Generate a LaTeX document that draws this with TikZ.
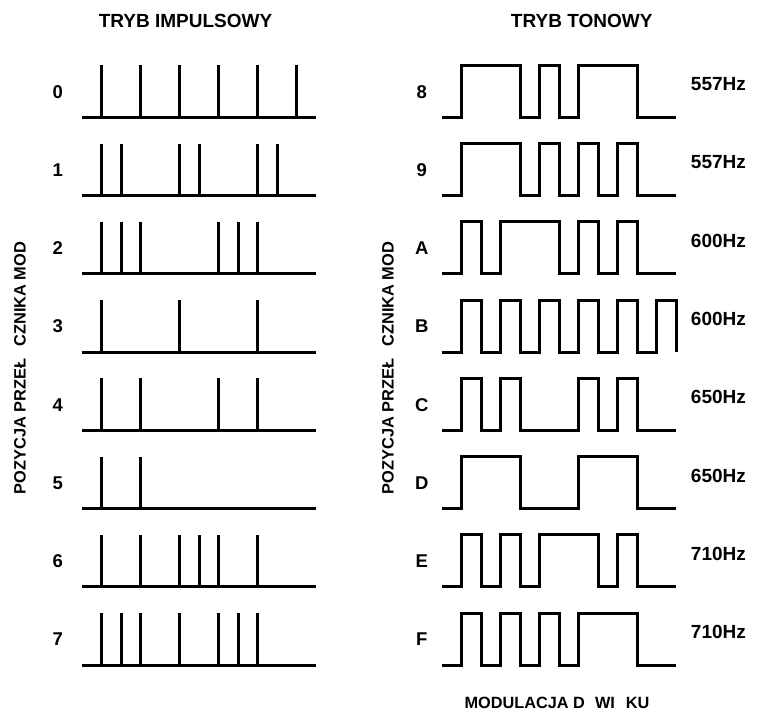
\documentclass[tikz,border=0pt]{standalone}
\usepackage{fontspec}
\setmainfont{Liberation Sans}
\begin{document}
\begin{tikzpicture}[x=1pt,y=-1pt,
  lbl/.style={font=\bfseries\fontsize{18.5}{18.5}\selectfont, inner sep=0pt},
  frq/.style={font=\bfseries\fontsize{19}{19}\selectfont, inner sep=0pt},
  ttl/.style={font=\bfseries\fontsize{19}{19}\selectfont, inner sep=0pt},
  vlbl/.style={font=\bfseries\fontsize{16.4}{16.4}\selectfont, inner sep=0pt, rotate=90},
  baseln/.style={line width=2.9pt},
  pulse/.style={line width=2.9pt},
  sig/.style={line width=2.9pt, line join=miter}]
\useasboundingbox (0,0) rectangle (758,713);
\def\u{19.5}
\def\xl{101.7}
\def\xr{461.7}
\def\hh{52}
% titles
\node[ttl] (T1) at (185.5,21) {TRYB IMPULSOWY};
\node[ttl] (T2) at (581.7,20.5) {TRYB TONOWY};
% left: pulse mode
\foreach \r/\lab/\ps in {0/0/{0,2,4,6,8,10}, 1/1/{0,1,4,5,8,9}, 2/2/{0,1,2,6,7,8}, 3/3/{0,4,8}, 4/4/{0,2,6,8}, 5/5/{0,2}, 6/6/{0,2,4,5,6,8}, 7/7/{0,1,2,4,6,7,8}}{
  \pgfmathsetmacro\y{117.3+78.25*\r}
  \node[lbl] (L\r) at (57.7,\y-25.6) {\lab};
  \draw[baseln] (\xl-\u,\y) -- (\xl+11*\u,\y);
  \foreach \p in \ps { \draw[pulse] (\xl+\p*\u,\y) -- (\xl+\p*\u,\y-\hh); }
}
% right: tone mode
\foreach \r/\lab/\f/\iv in {0/8/557/{0/3,4/5,6/9}, 1/9/557/{0/3,4/5,6/7,8/9}, 2/A/600/{0/1,2/5,6/7,8/9}, 4/C/650/{0/1,2/3,6/7,8/9}, 5/D/650/{0/3,6/9}, 6/E/710/{0/1,2/3,4/7,8/9}, 7/F/710/{0/1,2/3,4/5,6/9}}{
  \pgfmathsetmacro\y{117.3+78.25*\r}
  \node[lbl] (R\r) at (421.7,\y-25.6) {\lab};
  \node[frq] (F\r) at (718.4,\y-33) {\f Hz};
  \draw[sig] (\xr-\u,\y) \foreach \a/\b in \iv { -- (\xr+\a*\u,\y) -- (\xr+\a*\u,\y-\hh) -- (\xr+\b*\u,\y-\hh) -- (\xr+\b*\u,\y) } -- (\xr+11*\u,\y);
}
% row B
\pgfmathsetmacro\y{117.3+78.25*3}
\node[lbl] (R3) at (421.7,\y-25.6) {B};
\node[frq] (F3) at (718.4,\y-33) {600Hz};
\draw[sig] (\xr-\u,\y) \foreach \a/\b in {0/1,2/3,4/5,6/7,8/9} { -- (\xr+\a*\u,\y) -- (\xr+\a*\u,\y-\hh) -- (\xr+\b*\u,\y-\hh) -- (\xr+\b*\u,\y) } -- (\xr+10*\u,\y) -- (\xr+10*\u,\y-\hh) -- (\xr+11*\u,\y-\hh) -- (\xr+11*\u,\y);
% vertical labels
\node[vlbl] (V1) at (20,368) {POZYCJA PRZEŁ\hspace{11.8pt}CZNIKA MOD};
\node[vlbl] (V2) at (388,368) {POZYCJA PRZEŁ\hspace{11.8pt}CZNIKA MOD};
% bottom
\node[font=\bfseries\fontsize{16.3}{16.3}\selectfont, inner sep=0pt] (B1) at (557,703) {MODULACJA D\hspace{10pt}WI\hspace{10.9pt}KU};
\end{tikzpicture}
\end{document}
